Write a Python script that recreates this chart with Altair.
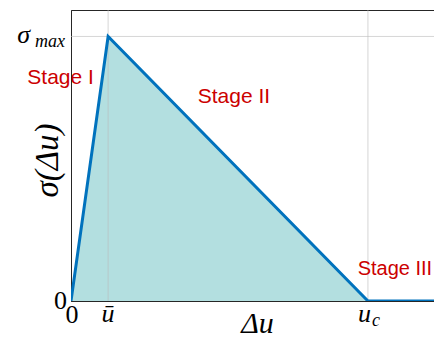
import altair as alt
import pandas as pd

# curve of the traction-separation law
curve_x = [0, 1, 8, 10]
curve_y = [0, 1, 0, 0]
# filled triangle (dissipated energy)
fill_x = [0, 1, 8]
fill_y = [0, 1, 0]
# grid positions
grid_x = [1, 8]
grid_y = [1]
# stage annotations
stage_text = ["Stage I", "Stage II", "Stage III"]
stage_x = [-0.28, 4.39, 9.73]
stage_y = [0.82, 0.75, 0.10]
stage_align = ["center", "center", "right"]
stage_size = [21, 21, 20]

XDOM = [0, 9.78]
YDOM = [0, 1.1]
SERIF = "Liberation Serif"
RED = "#cc0000"
BLUE = "#0072bd"

xs = alt.Scale(domain=XDOM, nice=False, zero=False)
ys = alt.Scale(domain=YDOM, nice=False, zero=False)

curve = pd.DataFrame({"x": curve_x, "y": curve_y})
fill = pd.DataFrame({"x": fill_x, "y": fill_y})
stages = pd.DataFrame({"x": stage_x, "y": stage_y, "t": stage_text, "a": stage_align})

xaxis = alt.Axis(labels=False, ticks=False, grid=False, domainColor="#262626",
                 title="Δu", titleFont=SERIF, titleFontSize=30, titleFontStyle="italic",
                 titleFontWeight="normal", titleColor="#000000",
                 titleX=186, titleY=31, titleBaseline="alphabetic", titleAlign="center")
yaxis = alt.Axis(labels=False, ticks=False, grid=False, domainColor="#262626",
                 title="σ(Δu)", titleFont=SERIF, titleFontSize=33, titleFontStyle="italic",
                 titleFontWeight="normal", titleColor="#000000",
                 titleX=-24, titleY=150, titleAngle=270, titleAlign="center",
                 titleBaseline="middle")

area = alt.Chart(fill).mark_area(color="#b3dfe0", opacity=1, line=False).encode(
    x=alt.X("x:Q", scale=xs, axis=xaxis),
    y=alt.Y("y:Q", scale=ys, axis=yaxis),
)

gx = alt.Chart(pd.DataFrame({"x": grid_x})).mark_rule(color="#bbbbbb", opacity=0.6, strokeWidth=1).encode(
    x=alt.X("x:Q", scale=xs)
)
gy = alt.Chart(pd.DataFrame({"y": grid_y})).mark_rule(color="#bbbbbb", opacity=0.6, strokeWidth=1).encode(
    y=alt.Y("y:Q", scale=ys)
)

line = alt.Chart(curve).mark_line(color=BLUE, strokeWidth=3, clip=True).encode(
    x=alt.X("x:Q", scale=xs),
    y=alt.Y("y:Q", scale=ys),
)

def stage_layer(i):
    d = stages.iloc[[i]]
    return alt.Chart(d).mark_text(font="Liberation Sans", fontSize=stage_size[i], color=RED,
                                  align=stage_align[i], baseline="alphabetic").encode(
        x=alt.X("x:Q", scale=xs), y=alt.Y("y:Q", scale=ys), text="t:N")

def lbl(text, xv, yv, dx, dy, size=26, align="center", style="italic"):
    d = pd.DataFrame({"x": [xv], "y": [yv], "t": [text]})
    return alt.Chart(d).mark_text(font=SERIF, fontSize=size, fontStyle=style, color="#000000",
                                  align=align, baseline="alphabetic", dx=dx, dy=dy).encode(
        x=alt.X("x:Q", scale=xs), y=alt.Y("y:Q", scale=ys), text="t:N")

ticklabels = [
    lbl("0", 0, 0, 1, 22, style="normal"),
    lbl("ū", 1, 0, 0, 21),
    lbl("u", 8, 0, -3.5, 21),
    lbl("c", 8, 0, 8, 25, size=18),
    lbl("0", 0, 0, -4, 8, align="right", style="normal"),
    lbl("σ", 0, 1, -41, 6.5, align="right"),
    lbl("max", 0, 1, -6, 10.5, size=18, align="right"),
]

chart = alt.layer(area, gx, gy, line, *[stage_layer(i) for i in range(3)], *ticklabels).properties(
    width=363, height=291,
    autosize=alt.AutoSizeParams(type="none"),
    padding={"left": 63, "top": 2, "right": 0, "bottom": 38},
).configure_view(stroke="#262626", strokeWidth=1)

chart.save("out.html", embed_options={"renderer": "svg", "actions": False})
